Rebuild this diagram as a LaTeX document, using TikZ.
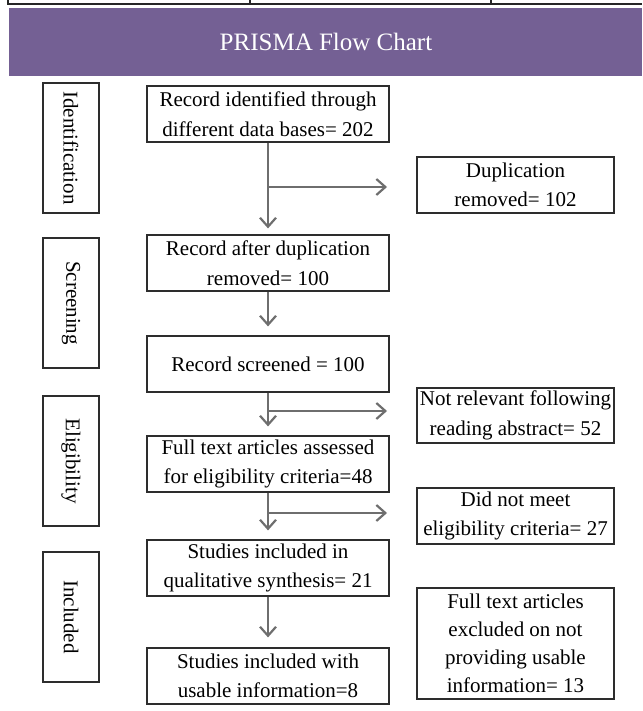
\documentclass[tikz,border=0pt]{standalone}
\usepackage{fontspec}
\setmainfont{Liberation Serif}
\usetikzlibrary{arrows.meta}
\definecolor{hdrpurple}{RGB}{116,96,148}
\definecolor{boxline}{RGB}{45,45,45}
\definecolor{arrgray}{RGB}{110,110,110}
\tikzset{
  every node/.style={font=\fontsize{21}{29.5}\selectfont, inner sep=0pt, align=center},
  boxbase/.style={draw=boxline, line width=1.2pt, fill=white},
  mainbox/.style={boxbase, minimum width=242pt, minimum height=56pt},
  sidebox/.style={boxbase, rotate=-90, minimum width=130pt, minimum height=56pt},
  rightbox/.style={boxbase, minimum width=197pt, minimum height=56pt},
  arr/.style={draw=arrgray, line width=2.2pt, -{Straight Barb[length=9pt, width=16pt]}},
  tableline/.style={draw=black!85, line width=1.3pt}
}
\begin{document}
\begin{tikzpicture}[x=1pt, y=-1pt]
\useasboundingbox (0,0) rectangle (642,711);
% fragment of table above
\draw[tableline] (8,0) -- (8,4) -- (642,4);
\draw[tableline] (250,0) -- (250,4);
\draw[tableline] (491,0) -- (491,4);
% header
\fill[hdrpurple] (9,8) rectangle (642,76);
\node[text=white, font=\fontsize{25}{29}\selectfont] (title) at (326,42) {PRISMA Flow Chart};
% side boxes
\node[sidebox] (sid) at (71,148) {Identification};
\node[sidebox] (ssc) at (71,303) {Screening};
\node[sidebox] (sel) at (71,461) {Eligibility};
\node[sidebox] (sin) at (71,617) {Included};
% main boxes
\node[mainbox] (b1) at (268,114) {Record identified through\\different data bases= 202};
\node[mainbox] (b2) at (268,263) {Record after duplication\\removed= 100};
\node[mainbox] (b3) at (268,364) {Record screened = 100};
\node[mainbox] (b4) at (268,464) {Full text articles assessed\\for eligibility criteria=48};
\node[mainbox] (b5) at (268,568) {Studies included in\\qualitative synthesis= 21};
\node[mainbox] (b6) at (268,676) {Studies included with\\usable information=8};
% right boxes
\node[rightbox] (dup) at (515.5,185) {Duplication\\removed= 102};
\node[rightbox, minimum height=55pt] (nr) at (515.5,415.5) {Not relevant following\\reading abstract= 52};
\node[rightbox] (dnm) at (515.5,516) {Did not meet\\eligibility criteria= 27};
\node[rightbox, minimum height=111pt, font=\fontsize{21}{28}\selectfont] (ft) at (515.5,643.5) {Full text articles\\excluded on not\\providing usable\\information= 13};
% branch points
\coordinate (j1) at (269,187);
\coordinate (e1) at (387,187);
\coordinate (j2) at (269,411);
\coordinate (e2) at (387,411);
\coordinate (j3) at (269,513);
\coordinate (e3) at (387,513);
% connectors
\draw[arr, shorten >=6pt] (b1.south) -- (b2.north);
\draw[arr] (j1) -- (e1);
\draw[arr, shorten >=9pt] (b2.south) -- (b3.north);
\draw[arr, shorten >=9pt] (b3.south) -- (b4.north);
\draw[arr] (j2) -- (e2);
\draw[arr, shorten >=9pt] (b4.south) -- (b5.north);
\draw[arr] (j3) -- (e3);
\draw[arr, shorten >=10pt] (b5.south) -- (b6.north);
\end{tikzpicture}
\end{document}
